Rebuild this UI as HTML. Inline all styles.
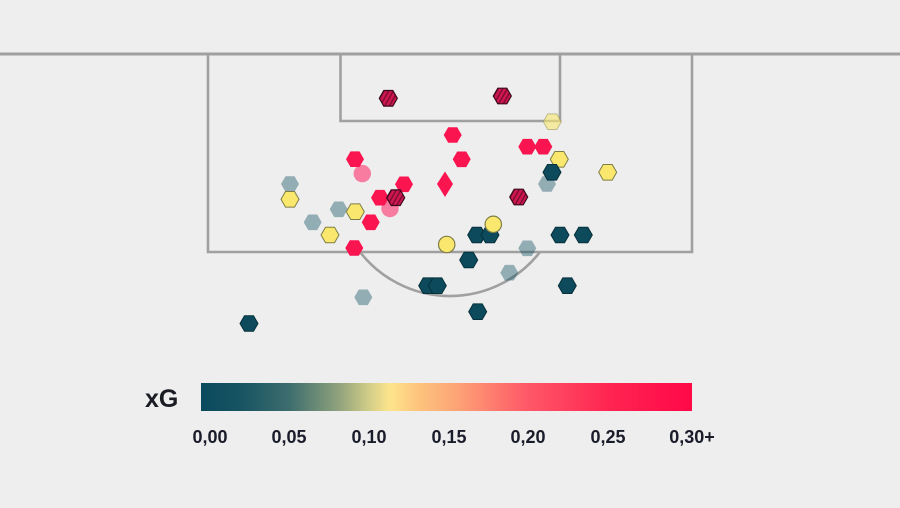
<!DOCTYPE html>
<html>
<head>
<meta charset="utf-8">
<style>
html,body{margin:0;padding:0;background:#eeeeee;}
svg{display:block;}
text{font-family:"Liberation Sans",sans-serif;}
</style>
</head>
<body>
<svg width="900" height="508" viewBox="0 0 900 508" xmlns="http://www.w3.org/2000/svg">
<defs>
  <polygon id="h" points="-9,0 -4.5,-7.8 4.5,-7.8 9,0 4.5,7.8 -4.5,7.8"/>
  <pattern id="hatch" width="4" height="4" patternUnits="userSpaceOnUse" patternTransform="rotate(30)">
    <rect width="4" height="4" fill="#d0164f"/>
    <rect width="1.4" height="4" fill="#7a0b33"/>
  </pattern>
  <linearGradient id="cb" x1="0" x2="1" y1="0" y2="0">
    <stop offset="0" stop-color="#0a4a5e"/>
    <stop offset="0.08" stop-color="#175462"/>
    <stop offset="0.18" stop-color="#3d6d6e"/>
    <stop offset="0.28" stop-color="#8fa27c"/>
    <stop offset="0.34" stop-color="#cfcc88"/>
    <stop offset="0.385" stop-color="#fde58c"/>
    <stop offset="0.44" stop-color="#fdc57e"/>
    <stop offset="0.52" stop-color="#fda476"/>
    <stop offset="0.66" stop-color="#ff5a68"/>
    <stop offset="0.83" stop-color="#ff2552"/>
    <stop offset="1" stop-color="#ff0848"/>
  </linearGradient>
</defs>
<rect width="900" height="508" fill="#eeeeee"/>

<!-- pitch lines -->
<g fill="none" stroke="#a0a0a0" stroke-width="2.6">
  <line x1="0" y1="54" x2="900" y2="54" stroke-width="3"/>
  <polyline points="208,54 208,252 692,252 692,54"/>
  <polyline points="340.5,54 340.5,121 560,121 560,54"/>
  <path d="M 360 252 A 114 114 0 0 0 540 252"/>
</g>

<!-- translucent markers (off target) -->
<g fill="#0b4a5e" fill-opacity="0.4">
  <use href="#h" x="290" y="184"/>
  <use href="#h" x="547" y="184"/>
  <use href="#h" x="338.7" y="209.3"/>
  <use href="#h" x="312.7" y="222.3"/>
  <use href="#h" x="527.3" y="248.3"/>
  <use href="#h" x="509.3" y="272.7"/>
  <use href="#h" x="363.3" y="297.3"/>
</g>
<g fill="#ff0a4f" fill-opacity="0.5">
  <circle cx="362.3" cy="173.6" r="8.7"/>
  <circle cx="390" cy="208.5" r="8.7"/>
</g>
<g fill="#fae86e" fill-opacity="0.6" stroke="#8a8a4a" stroke-opacity="0.5" stroke-width="1">
  <use href="#h" x="552.3" y="121.7"/>
</g>

<!-- yellow hexes -->
<g fill="#fae86e" stroke="#7f7d45" stroke-width="1">
  <use href="#h" x="559.3" y="159.3"/>
  <use href="#h" x="607.7" y="172.3"/>
  <use href="#h" x="290" y="199.3"/>
  <use href="#h" x="355.3" y="211.7"/>
  <use href="#h" x="330" y="235"/>
</g>

<!-- dark teal hexes -->
<g fill="#0d4a5c" stroke="#06303c" stroke-width="1">
  <use href="#h" x="552" y="172.3"/>
  <use href="#h" x="476.7" y="235"/>
  <use href="#h" x="490" y="235"/>
  <use href="#h" x="560" y="235"/>
  <use href="#h" x="583.3" y="235"/>
  <use href="#h" x="468.7" y="260"/>
  <use href="#h" x="427.7" y="285.7"/>
  <use href="#h" x="437.3" y="285.7"/>
  <use href="#h" x="567.3" y="285.7"/>
  <use href="#h" x="477.7" y="311.7"/>
  <use href="#h" x="249" y="323.5"/>
</g>

<!-- yellow circles -->
<g fill="#fae86e" stroke="#7f7d45" stroke-width="1.2">
  <circle cx="493.3" cy="224.3" r="8.2"/>
  <circle cx="446.7" cy="244.5" r="8.2"/>
</g>

<!-- red hexes -->
<g fill="#fa1450">
  <use href="#h" x="452.7" y="135"/>
  <use href="#h" x="527.3" y="146.7"/>
  <use href="#h" x="543.3" y="146.7"/>
  <use href="#h" x="355" y="159.2"/>
  <use href="#h" x="461.7" y="159.3"/>
  <use href="#h" x="404" y="184.3"/>
  <use href="#h" x="380" y="197.7"/>
  <use href="#h" x="370.7" y="222.3"/>
  <use href="#h" x="354.3" y="248"/>
  <polygon points="445,171.5 453,184 445,197 437,184"/>
</g>

<!-- hatched (goals) -->
<g fill="url(#hatch)" stroke="#3a0a1c" stroke-width="1.2">
  <use href="#h" x="388.3" y="98.3"/>
  <use href="#h" x="502.3" y="96"/>
  <use href="#h" x="395.7" y="197.7"/>
  <use href="#h" x="518.7" y="197"/>
</g>

<!-- colour bar -->
<text x="145" y="407" font-size="25" font-weight="bold" fill="#1a1c24">xG</text>
<rect x="201" y="383" width="491" height="28" fill="url(#cb)"/>
<g font-size="18" font-weight="bold" fill="#1a1c2a" text-anchor="middle">
  <text x="210" y="443">0,00</text>
  <text x="289" y="443">0,05</text>
  <text x="369" y="443">0,10</text>
  <text x="449" y="443">0,15</text>
  <text x="528" y="443">0,20</text>
  <text x="608" y="443">0,25</text>
  <text x="692" y="443">0,30+</text>
</g>
</svg>
</body>
</html>
